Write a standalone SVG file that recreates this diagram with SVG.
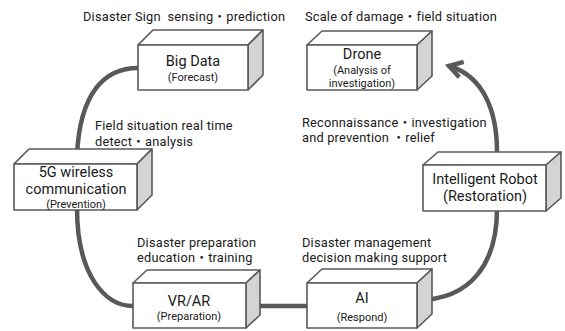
<svg xmlns="http://www.w3.org/2000/svg" width="565" height="331" viewBox="0 0 565 331">
<style>
.face{fill:#ffffff;stroke:#595959;stroke-width:1.6;stroke-linejoin:round}
.side{fill:#d4d4d4;stroke:#595959;stroke-width:1.6;stroke-linejoin:round}
.lbl{font-family:Roboto,"Noto Sans CJK KR",sans-serif;font-size:12.8px;letter-spacing:0.2px;fill:#1a1a1a;white-space:pre}
.t1{font-family:Roboto,"Noto Sans CJK KR",sans-serif;font-size:14.5px;fill:#1a1a1a;text-anchor:middle}
.t2{font-family:Roboto,"Noto Sans CJK KR",sans-serif;font-size:11px;fill:#1a1a1a;text-anchor:middle}
.con{fill:none;stroke:#595959;stroke-width:4.5;stroke-linecap:round}
</style>
<defs>
<marker id="arr" markerUnits="userSpaceOnUse" markerWidth="40" markerHeight="40" viewBox="-20 -20 40 40" refX="0" refY="0" orient="auto" overflow="visible">
<path d="M-13,-8 L0,0 L-13,8" fill="none" stroke="#595959" stroke-width="4.5" stroke-linejoin="miter"/>
</marker>
</defs>
<rect width="565" height="331" fill="#ffffff"/>
<g id="connectors">
<path class="con" d="M138,68 C105,68 80,92 77,155"/>
<path class="con" d="M77,208 C77,275 105,306 133,306"/>
<path class="con" d="M246,306 L307,306"/>
<path class="con" d="M417,300 C472,300 497,262 497,209"/>
<path class="con" d="M497,152 C497,112 484,76 449,66" marker-end="url(#arr)"/>
</g>
<g id="labels">
<text class="lbl" x="83" y="21" xml:space="preserve">Disaster Sign  sensing・prediction</text>
<text class="lbl" x="305" y="21">Scale of damage・field situation</text>
<text class="lbl" x="95" y="130">Field situation real time</text>
<text class="lbl" x="95" y="145.5">detect・analysis</text>
<text class="lbl" x="302" y="126.5">Reconnaissance・investigation</text>
<text class="lbl" x="302" y="142" xml:space="preserve">and prevention ・relief</text>
<text class="lbl" x="137" y="246.5">Disaster preparation</text>
<text class="lbl" x="137" y="262">education・training</text>
<text class="lbl" x="302" y="246.5">Disaster management</text>
<text class="lbl" x="302" y="262">decision making support</text>
</g>
<g id="bigdata">
<polygon class="face" points="138,45 153,30 263,30 248,45"/>
<polygon class="side" points="248,45 263,30 263,75 248,90"/>
<rect class="face" x="138" y="45" width="110" height="45"/>
<text class="t1" x="193" y="66">Big Data</text>
<text class="t2" x="193" y="80.5">(Forecast)</text>
</g>
<g id="drone">
<polygon class="face" points="307,45 322,31 432,31 417,45"/>
<polygon class="side" points="417,45 432,31 432,76 417,90"/>
<rect class="face" x="307" y="45" width="110" height="45"/>
<text class="t1" x="362" y="59">Drone</text>
<text class="t2" x="362" y="74">(Analysis of</text>
<text class="t2" x="362" y="87">investigation)</text>
</g>
<g id="wireless5g">
<polygon class="face" points="14,164 29,149 152,149 137,164"/>
<polygon class="side" points="137,164 152,149 152,195 137,210"/>
<rect class="face" x="14" y="164" width="123" height="46"/>
<text class="t1" x="76" y="177">5G wireless</text>
<text class="t1" x="76" y="194">communication</text>
<text class="t2" x="76" y="208">(Prevention)</text>
</g>
<g id="robot">
<polygon class="face" points="423,165 438,152 561,152 546,165"/>
<polygon class="side" points="546,165 561,152 561,198 546,211"/>
<rect class="face" x="423" y="165" width="123" height="46"/>
<text class="t1" x="485" y="184">Intelligent Robot</text>
<text class="t1" x="485" y="201">(Restoration)</text>
</g>
<g id="vrar">
<polygon class="face" points="133,283 147,270 260,270 246,283"/>
<polygon class="side" points="246,283 260,270 260,315 246,328"/>
<rect class="face" x="133" y="283" width="113" height="45"/>
<text class="t1" x="189" y="306">VR/AR</text>
<text class="t2" x="189" y="320">(Preparation)</text>
</g>
<g id="ai">
<polygon class="face" points="307,283 322,269 432,269 417,283"/>
<polygon class="side" points="417,283 432,269 432,314 417,328"/>
<rect class="face" x="307" y="283" width="110" height="45"/>
<text class="t1" x="362" y="303">AI</text>
<text class="t2" x="362" y="321">(Respond)</text>
</g>
</svg>
